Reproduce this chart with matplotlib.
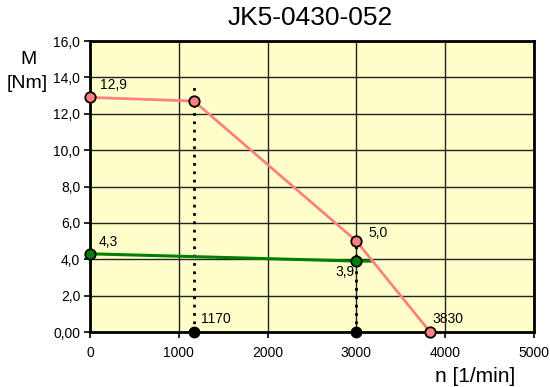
import matplotlib
matplotlib.use("Agg")
import matplotlib.pyplot as plt
from matplotlib.ticker import FixedLocator, FuncFormatter

plt.rcParams['font.family'] = ['Liberation Sans', 'DejaVu Sans']

title = "JK5-0430-052"
# peak torque curve
peak_n = [0, 1170, 3000, 3830]
peak_M = [12.9, 12.7, 5.0, 0.0]
# continuous torque curve
cont_n = [0, 3000, 3180]
cont_M = [4.3, 3.9, 3.9]
cont_marked = [0, 1]
# reference speeds
ref_n = [1170, 3000]
ref_top = [13.6, 5.0]

x_ticks = [0, 1000, 2000, 3000, 4000, 5000]
y_ticks = [0, 2, 4, 6, 8, 10, 12, 14, 16]

pink = '#FF8080'
green = '#008000'

fig = plt.figure(figsize=(5.5, 3.87), dpi=100)
ax = fig.add_axes([0.1636, 0.1421, 0.9709 - 0.1636, 0.894 - 0.1421])
ax.set_facecolor('#FFFFCC')
ax.set_xlim(0, 5000)
ax.set_ylim(0, 16)
ax.xaxis.set_major_locator(FixedLocator(x_ticks))
ax.yaxis.set_major_locator(FixedLocator(y_ticks))
ax.yaxis.set_major_formatter(FuncFormatter(lambda v, p: "0,00" if v == 0 else f"{v:.1f}".replace('.', ',')))
ax.xaxis.set_major_formatter(FuncFormatter(lambda v, p: f"{int(v)}"))
ax.grid(True, color='#222222', linewidth=1.0)
ax.set_axisbelow(True)
for s in ax.spines.values():
    s.set_linewidth(2.0)
    s.set_color('black')
ax.tick_params(axis='both', direction='out', length=4, width=1.2, labelsize=10, colors='black', pad=3)
ax.tick_params(axis='x', pad=6)

# reference dotted lines
for n, top in zip(ref_n, ref_top):
    ax.plot([n, n], [0, top], color='black', linestyle=(0, (1, 2)), linewidth=2, zorder=3)
ax.plot(ref_n, [0, 0], linestyle='none', marker='o', markersize=7.5,
        markerfacecolor='black', markeredgecolor='black', zorder=6, clip_on=False)

ax.plot(cont_n, cont_M, color=green, linewidth=2.2, zorder=4, markevery=cont_marked,
        marker='o', markersize=7.5, markerfacecolor=green, markeredgecolor='black',
        markeredgewidth=1.3, clip_on=False)
ax.plot(peak_n, peak_M, color=pink, linewidth=2.0, zorder=5,
        marker='o', markersize=7.5, markerfacecolor=pink, markeredgecolor='black',
        markeredgewidth=1.3, clip_on=False)

fs = 10
def lab(x, y, s, dx, dy, ha='left'):
    ax.annotate(s, (x, y), xytext=(dx, dy), textcoords='offset pixels',
                fontsize=fs, ha=ha, va='center', zorder=7)

lab(peak_n[0], peak_M[0], "12,9", 10, 12)
lab(cont_n[0], cont_M[0], "4,3", 9, 12)
lab(peak_n[2], peak_M[2], "5,0", 12, 8)
lab(cont_n[1], cont_M[1], "3,9", -2, -11, ha='right')
lab(ref_n[0], 0, "1170", 7, 13)
lab(peak_n[3], 0, "3830", 2, 13)

fig.text(310 / 550, 1 - 18 / 387, title, fontsize=19, ha='center', va='center')
fig.text(28 / 550, 1 - 60 / 387, "M", fontsize=14, ha='center', va='center')
fig.text(27 / 550, 1 - 83 / 387, "[Nm]", fontsize=14, ha='center', va='center')
fig.text(475 / 550, 1 - 376 / 387, "n [1/min]", fontsize=15, ha='center', va='center')

fig.savefig("out.png", dpi=100)
